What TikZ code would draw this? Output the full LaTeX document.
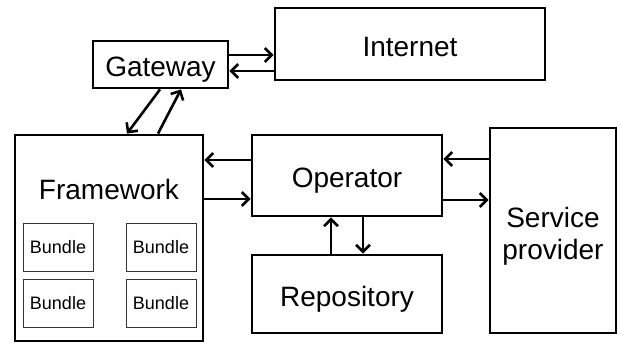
\documentclass[tikz,border=0pt]{standalone}
\usepackage{fontspec}
\setmainfont{Liberation Sans}
\usetikzlibrary{arrows.meta}
\begin{document}
\begin{tikzpicture}[x=1pt,y=-1pt,
  big/.style={font=\fontsize{28}{32}\selectfont},
  box/.style={draw=black,line width=2.8pt,inner sep=0pt,big,text height=24pt,text depth=0pt},
  plainbox/.style={draw=black,line width=2.8pt,inner sep=0pt},
  lbl/.style={inner sep=0pt,big},
  bundlebox/.style={draw=black!80,line width=1pt,minimum width=70pt,minimum height=48pt,inner sep=0pt,font=\fontsize{18}{20}\selectfont,text height=13pt,text depth=0pt},
  arr/.style={line width=2.6pt,-{Straight Barb[length=7pt,width=14pt,line width=2.6pt]}}]
\useasboundingbox (0,0) rectangle (621,343);
% main boxes
\node[box,minimum width=270pt,minimum height=72pt] (in) at (410,44) {Internet};
\node[box,minimum width=135pt,minimum height=47pt] (gw) at (160.5,64.5) {Gateway};
\node[plainbox,minimum width=188pt,minimum height=206pt] (fw) at (109,238) {};
\node[lbl,text height=20pt,text depth=0pt] (fwt) at (109,189) {Framework};
\node[box,minimum width=190pt,minimum height=81pt] (op) at (347,175.5) {Operator};
\node[box,minimum width=190pt,minimum height=78pt] (rp) at (347,294) {Repository};
\node[plainbox,minimum width=126pt,minimum height=205pt] (sp) at (553,230.5) {};
\node[lbl,align=center] (spt) at (553,236) {Service\\provider};
% bundles
\node[bundlebox] (b1) at (58,247) {Bundle};
\node[bundlebox] (b2) at (161,247) {Bundle};
\node[bundlebox] (b3) at (58,303) {Bundle};
\node[bundlebox] (b4) at (161,303) {Bundle};
% connectors
\draw[arr] (gw.east |- 0,55) -- (in.west |- 0,55);
\draw[arr] (in.west |- 0,71) -- (gw.east |- 0,71);
\draw[arr] (gw.south -| 160,0) -- (fw.north -| 127,0);
\draw[arr] (fw.north -| 158,0) -- (gw.south -| 181,0);
\draw[arr] (op.west |- 0,160) -- (fw.east |- 0,160);
\draw[arr] (fw.east |- 0,199) -- (op.west |- 0,199);
\draw[arr] (sp.west |- 0,159) -- (op.east |- 0,159);
\draw[arr] (op.east |- 0,200) -- (sp.west |- 0,200);
\draw[arr] (rp.north -| 331,0) -- (op.south -| 331,0);
\draw[arr] (op.south -| 363,0) -- (rp.north -| 363,0);
\end{tikzpicture}
\end{document}
